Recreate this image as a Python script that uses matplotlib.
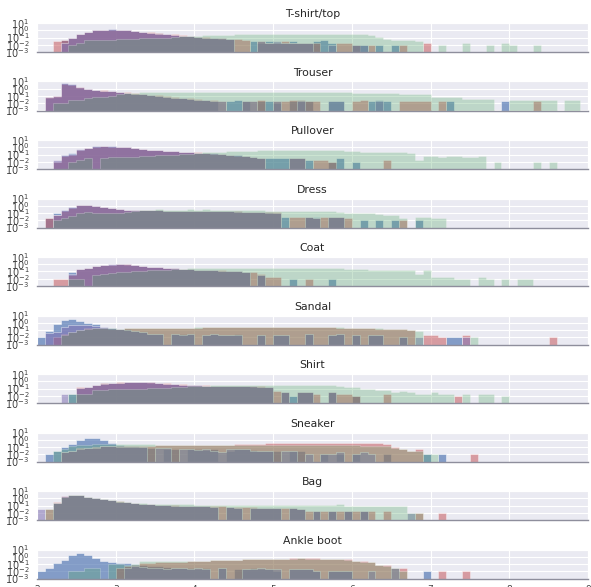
import numpy as np
import matplotlib.pyplot as plt
import seaborn as sns
from matplotlib.ticker import NullLocator

sns.set_style("darkgrid")
plt.rcParams["font.family"] = ["DejaVu Sans"]

# ===== histogram settings =====
N_PER_CLASS = 1000      # test images per class
BIN_WIDTH = 0.1
X_MIN, X_MAX = 2.0, 9.0
N_BINS = int(round((X_MAX - X_MIN) / BIN_WIDTH))

class_names = ["T-shirt/top", "Trouser", "Pullover", "Dress", "Coat",
               "Sandal", "Shirt", "Sneaker", "Bag", "Ankle boot"]

# counts per 0.1-wide bin starting at x=2.0 (trailing empty bins omitted)
tshirt_b = [0, 0, 0, 4, 10, 35, 60, 100, 125, 130, 115, 95, 75, 60, 45, 38, 30, 22, 18, 14, 12, 10, 8, 7, 6, 0, 0, 3, 2, 3,
            2, 2, 3, 2, 2, 3, 4, 2, 0, 0, 1, 1, 0, 1, 0, 1]
tshirt_g = [0, 0, 0, 0, 1, 2, 4, 4, 4, 5, 6, 6, 7, 8, 8, 9, 10, 12, 14, 16, 18, 20, 22, 24, 25, 27, 28, 30, 30, 30,
            32, 32, 35, 35, 35, 35, 35, 35, 35, 35, 28, 26, 25, 12, 7, 5, 5, 4, 3, 0, 0, 1, 0, 0, 2, 0, 0, 1, 0, 2,
            1, 0, 0, 1]
tshirt_r = [0, 0, 3, 4, 9, 30, 55, 95, 115, 125, 120, 100, 80, 65, 50, 40, 32, 26, 20, 16, 13, 11, 9, 8, 7, 6, 5, 0, 3, 2,
            2, 3, 2, 2, 2, 2, 0, 0, 2, 2, 1, 0, 1, 0, 0, 0, 1, 0, 0, 2]
tshirt_p = [0, 0, 0, 2, 10, 35, 60, 100, 120, 130, 120, 100, 75, 60, 48, 35, 30, 22, 18, 15, 12, 10, 9, 8, 7, 0, 0, 0, 3, 2,
            3, 2, 2, 2, 2, 0, 0, 1, 0, 0, 1, 1]

trouser_b = [0, 5, 8, 650, 400, 140, 80, 65, 55, 45, 35, 28, 22, 18, 14, 10, 8, 6, 5, 4, 3, 3, 2, 0, 2, 3, 2, 0, 2, 2,
             1, 0, 2, 3, 2, 0, 0, 2, 2, 0, 0, 0, 2, 3, 2, 0, 0, 0, 0, 0, 0, 0, 2, 0, 0, 0, 0, 0, 0, 2]
trouser_g = [0, 0, 1, 1, 3, 3, 6, 8, 8, 10, 20, 28, 30, 32, 35, 35, 36, 36, 38, 38, 38, 38, 38, 38, 38, 36, 36, 36, 35, 35,
             35, 35, 35, 35, 34, 34, 34, 33, 33, 33, 25, 25, 25, 25, 25, 25, 20, 20, 20, 20, 8, 8, 8, 8, 4, 4, 4, 4, 0, 0,
             3, 3, 3, 3, 3, 3, 0, 3, 3]
trouser_r = [0, 8, 10, 400, 350, 180, 90, 70, 60, 50, 40, 32, 25, 20, 16, 12, 10, 8, 6, 5, 4, 3, 3, 2, 0, 0, 2, 2, 3, 0,
             2, 2, 3, 3, 2, 2, 0, 0, 0, 0, 2, 3, 0, 0, 0, 0, 2, 2, 2, 2, 0, 2, 0, 0, 0, 0, 0, 0, 0, 0, 0, 0, 0, 2]
trouser_p = [0, 8, 10, 550, 420, 150, 80, 65, 55, 45, 35, 28, 22, 18, 14, 10, 8, 6, 5, 4, 3, 3, 2, 2, 0, 0, 2, 2, 0, 0,
             2, 0, 0, 2, 0, 0, 0, 2, 2, 0, 0, 0, 0, 2]

pullover_b = [0, 0, 1, 10, 14, 48, 88, 128, 135, 128, 118, 105, 78, 55, 46, 40, 34, 30, 24, 20, 17, 15, 13, 12, 9, 8, 6, 5, 3, 3,
              3, 3, 3, 3, 2, 0, 0, 1, 3, 0, 1]
pullover_g = [0, 0, 0, 0, 1, 2, 3, 0, 3, 4, 4, 5, 5, 6, 7, 8, 9, 10, 11, 12, 18, 20, 22, 25, 28, 30, 32, 35, 40, 42,
              45, 45, 48, 45, 45, 42, 40, 40, 38, 35, 28, 25, 25, 24, 22, 22, 20, 18, 2, 6, 6, 5, 6, 6, 5, 5, 6, 0, 1, 0,
              0, 0, 0, 1, 0, 1]
pullover_r = [0, 0, 1, 6, 10, 45, 85, 125, 130, 125, 115, 105, 82, 58, 46, 38, 33, 28, 24, 21, 19, 15, 13, 11, 8, 7, 6, 4, 3, 0,
              0, 0, 3, 3, 0, 2, 2, 1, 0, 0, 0, 0, 0, 0, 2]
pullover_p = [0, 0, 2, 8, 12, 50, 90, 130, 135, 130, 120, 110, 80, 55, 48, 40, 35, 30, 25, 20, 18, 15, 14, 12, 9, 8, 7, 5, 3, 0,
              0, 0, 3, 3]

dress_b = [0, 2, 10, 30, 60, 120, 130, 90, 60, 45, 35, 30, 25, 25, 24, 24, 22, 20, 20, 19, 22, 21, 20, 19, 18, 18, 14, 14, 13, 12,
           11, 3, 0, 0, 3, 3, 0, 3, 3, 0, 0, 1, 0, 1, 0, 1, 0, 0, 1]
dress_g = [0, 0, 1, 2, 4, 10, 12, 11, 10, 10, 11, 12, 22, 30, 30, 32, 30, 28, 30, 32, 30, 32, 30, 30, 30, 28, 30, 30, 28, 22,
           20, 20, 20, 20, 18, 20, 20, 18, 12, 10, 10, 10, 9, 8, 5, 5, 2, 0, 3, 3, 2, 2]
dress_r = [0, 2, 6, 20, 55, 110, 125, 95, 62, 46, 36, 30, 25, 24, 24, 23, 22, 20, 19, 19, 21, 20, 19, 18, 18, 17, 15, 14, 13, 14,
           12, 0, 3, 3, 3, 2, 3, 3, 3, 2, 0, 0, 0, 0, 0, 0, 1]
dress_p = [0, 0, 5, 25, 60, 125, 135, 100, 65, 48, 36, 30, 25, 24, 23, 23, 22, 20, 19, 18, 20, 20, 18, 18, 17, 16, 14, 13, 12, 11,
           10, 0, 0, 0, 3, 2, 0, 3, 3]

coat_b = [0, 0, 0, 0, 8, 22, 32, 50, 72, 92, 100, 92, 80, 62, 45, 36, 30, 26, 22, 20, 17, 15, 14, 13, 11, 10, 8, 0, 3, 0,
          0, 0, 1, 0, 0, 0, 0, 1]
coat_g = [0, 0, 0, 0, 1, 1, 0, 3, 4, 7, 8, 9, 10, 12, 14, 16, 18, 20, 24, 26, 28, 30, 30, 32, 32, 34, 34, 35, 35, 35,
          34, 34, 33, 33, 32, 32, 33, 32, 30, 22, 20, 20, 18, 15, 15, 14, 14, 15, 5, 15, 2, 2, 2, 1, 1, 0, 2, 1, 0, 1,
          0, 1, 1]
coat_r = [0, 0, 1, 1, 3, 20, 32, 50, 70, 90, 100, 95, 85, 65, 45, 38, 32, 28, 24, 22, 18, 16, 18, 14, 12, 10, 9, 8, 4, 2,
          2, 0, 0, 0, 1]
coat_p = [0, 0, 0, 0, 4, 24, 34, 52, 72, 95, 100, 95, 82, 62, 44, 36, 30, 26, 22, 20, 17, 15, 14, 12, 11, 10, 8, 0, 3]

sandal_b = [1, 8, 60, 250, 300, 180, 100, 60, 30, 20, 15, 12, 8, 5, 3, 3, 0, 3, 3, 3, 0, 2, 3, 2, 2, 3, 0, 0, 2, 0,
            2, 2, 0, 0, 3, 0, 0, 2, 3, 0, 2, 0, 2, 2, 0, 0, 1, 0, 0, 0, 0, 0, 1, 1]
sandal_g = [0, 0, 0, 2, 5, 10, 15, 18, 17, 17, 16, 18, 18, 17, 19, 18, 18, 20, 20, 22, 23, 24, 24, 25, 25, 26, 27, 26, 27, 28,
            28, 28, 29, 28, 28, 27, 26, 26, 23, 21, 20, 20, 19, 17, 16, 14, 14, 10, 8, 0, 0, 0, 0, 0, 0, 1]
sandal_r = [0, 0, 1, 3, 6, 10, 18, 22, 17, 16, 16, 17, 17, 17, 18, 18, 18, 19, 19, 22, 22, 23, 24, 24, 25, 25, 26, 26, 27, 27,
            27, 28, 28, 28, 27, 27, 26, 26, 22, 21, 20, 20, 19, 16, 15, 14, 14, 10, 0, 2, 2, 1, 0, 0, 2, 0, 0, 0, 0, 0,
            0, 0, 0, 0, 0, 1]
sandal_p = [0, 4, 5, 25, 45, 50, 45, 35, 28, 22, 15, 10, 8, 5, 3, 3, 0, 3, 2, 3, 0, 2, 3, 2, 2, 2, 0, 0, 2, 0,
            2, 2, 0, 0, 3, 0, 0, 2, 3, 0, 2, 0, 2, 2, 0, 0, 1, 0, 1, 0, 0, 0, 0, 0, 1]

shirt_b = [0, 0, 0, 0, 2, 13, 15, 32, 50, 55, 66, 72, 70, 68, 66, 52, 46, 36, 34, 30, 26, 24, 24, 22, 20, 19, 19, 18, 17, 14,
           0, 3, 1, 3, 3, 0, 0, 3, 0, 0, 1]
shirt_g = [0, 0, 0, 0, 2, 2, 2, 6, 7, 8, 9, 10, 10, 10, 11, 12, 13, 15, 17, 20, 24, 25, 26, 27, 28, 28, 28, 30, 30, 30,
           30, 28, 28, 28, 28, 28, 27, 26, 25, 15, 15, 10, 10, 7, 7, 3, 5, 3, 2, 2, 3, 2, 2, 0, 2, 0, 2, 2, 0, 1]
shirt_r = [0, 0, 0, 0, 0, 14, 16, 34, 52, 58, 68, 74, 72, 72, 68, 56, 50, 40, 36, 33, 28, 26, 25, 24, 22, 21, 20, 20, 19, 16,
           5, 3, 0, 3, 3, 2, 0, 3, 2, 2, 1, 0, 0, 0, 2, 0, 0, 0, 0, 0, 0, 0, 0, 1]
shirt_p = [0, 0, 0, 2, 0, 12, 14, 30, 48, 55, 65, 70, 72, 70, 68, 55, 48, 38, 35, 32, 27, 25, 25, 23, 21, 20, 19, 19, 18, 15,
           0, 3, 0, 3, 3, 0, 0, 3]

sneaker_b = [0, 1, 3, 10, 30, 100, 180, 180, 100, 40, 20, 15, 12, 10, 8, 0, 6, 6, 0, 5, 5, 4, 6, 0, 3, 5, 5, 4, 3, 3,
             3, 0, 3, 3, 0, 0, 1, 0, 1, 0, 1, 0, 0, 0, 1, 0, 0, 0, 0, 1, 0, 1]
sneaker_g = [0, 0, 3, 5, 12, 18, 22, 25, 28, 30, 28, 25, 25, 24, 24, 22, 22, 22, 22, 20, 20, 20, 20, 22, 20, 20, 20, 20, 20, 20,
             20, 20, 20, 20, 20, 18, 18, 18, 18, 18, 18, 16, 16, 15, 14, 8, 5, 3, 3, 1, 1]
sneaker_r = [0, 0, 0, 2, 3, 7, 8, 9, 14, 14, 12, 15, 15, 16, 16, 17, 18, 18, 17, 18, 18, 20, 22, 22, 22, 24, 25, 25, 28, 35,
             35, 36, 38, 38, 40, 40, 40, 38, 38, 38, 36, 35, 35, 33, 30, 10, 5, 3, 5, 0, 0, 0, 0, 0, 0, 1]
sneaker_p = [0, 0, 0, 2, 3, 6, 7, 8, 13, 13, 10, 9, 9, 9, 0, 7, 7, 0, 5, 5, 4, 6, 3, 2, 6, 6, 5, 3, 3, 3,
             0, 3, 3, 0, 1, 0, 1, 1, 2, 0, 1, 2, 1]

bag_b = [0, 0, 20, 170, 290, 250, 165, 105, 72, 50, 35, 28, 22, 18, 15, 12, 11, 10, 9, 9, 8, 8, 7, 0, 6, 5, 0, 5, 5, 4,
         4, 0, 4, 3, 0, 2, 0, 2, 0, 2, 0, 2]
bag_g = [0, 3, 22, 160, 280, 240, 160, 100, 70, 50, 38, 30, 25, 20, 17, 15, 15, 14, 14, 14, 13, 13, 13, 12, 12, 12, 12, 12, 12, 12,
         12, 12, 12, 13, 11, 11, 11, 11, 17, 9, 8, 8, 8, 8, 8, 8, 8, 1, 1]
bag_r = [0, 3, 28, 180, 300, 260, 170, 110, 75, 52, 36, 28, 22, 18, 15, 13, 12, 11, 10, 10, 9, 9, 8, 8, 7, 6, 6, 6, 5, 5,
         5, 5, 4, 3, 2, 2, 2, 2, 2, 2, 2, 2, 2, 0, 2, 0, 0, 0, 1, 0, 0, 1]
bag_p = [3, 0, 25, 175, 300, 255, 168, 108, 74, 50, 35, 28, 22, 18, 15, 12, 11, 10, 9, 9, 8, 8, 7, 0, 6, 5, 0, 5, 5, 4,
         4, 0, 4, 3, 0, 2, 0, 2, 0, 2, 0, 2, 0, 0, 0, 0, 0, 1]

ankle_b = [1, 3, 12, 40, 200, 300, 180, 70, 30, 20, 15, 12, 10, 8, 6, 5, 4, 3, 3, 3, 2, 3, 0, 3, 0, 2, 2, 3, 2, 2,
           1, 0, 2, 2, 2, 1, 0, 1, 1, 1, 0, 0, 0, 0, 0, 0, 0, 0, 0, 1]
ankle_g = [0, 0, 0, 0, 1, 1, 3, 3, 0, 10, 10, 8, 10, 25, 25, 28, 28, 30, 30, 30, 30, 30, 32, 35, 38, 40, 42, 45, 48, 50,
           52, 55, 55, 58, 55, 55, 45, 45, 42, 40, 25, 22, 20, 8, 6, 3, 1]
ankle_r = [0, 0, 0, 0, 0, 0, 0, 0, 0, 0, 3, 5, 8, 12, 15, 17, 18, 20, 22, 25, 28, 30, 32, 35, 38, 40, 42, 45, 48, 50,
           52, 55, 62, 65, 62, 60, 50, 48, 45, 45, 28, 25, 22, 8, 8, 3, 3, 0, 0, 0, 0, 1, 0, 0, 1]
ankle_p = [0, 0, 0, 0, 0, 0, 0, 0, 0, 0, 0, 3, 5, 4, 3, 3, 2, 3, 3, 2, 3, 2, 0, 3, 0, 0, 2, 2, 3, 2,
           2, 0, 2, 2, 2, 1, 0, 1, 1, 1, 0, 0, 1, 0, 0, 3]

# drawing order (back to front) with the fill opacity of each series
series_colors = ["#4C72B0", "#C44E52", "#8172B2", "#55A868"]
series_alpha = [0.65, 0.5, 0.55, 0.3]

counts = {
    "T-shirt/top": (tshirt_b, tshirt_r, tshirt_p, tshirt_g),
    "Trouser": (trouser_b, trouser_r, trouser_p, trouser_g),
    "Pullover": (pullover_b, pullover_r, pullover_p, pullover_g),
    "Dress": (dress_b, dress_r, dress_p, dress_g),
    "Coat": (coat_b, coat_r, coat_p, coat_g),
    "Sandal": (sandal_b, sandal_r, sandal_p, sandal_g),
    "Shirt": (shirt_b, shirt_r, shirt_p, shirt_g),
    "Sneaker": (sneaker_b, sneaker_r, sneaker_p, sneaker_g),
    "Bag": (bag_b, bag_r, bag_p, bag_g),
    "Ankle boot": (ankle_b, ankle_r, ankle_p, ankle_g),
}

edges = X_MIN + BIN_WIDTH * np.arange(N_BINS + 1)
centers = edges[:-1] + BIN_WIDTH / 2


def to_density(c):
    """pad a count list to the full bin range and normalise to a density"""
    c = np.array(list(c) + [0] * (N_BINS - len(c)), dtype=float)
    return c / (N_PER_CLASS * BIN_WIDTH)


# ===== figure =====
W, H = 591, 587
fig = plt.figure(figsize=(W / 100, H / 100), dpi=100)

for i, name in enumerate(class_names):
    top = 23 + 58.5 * i
    ax = fig.add_axes([37 / W, 1 - (top + 29) / H, 551 / W, 29 / H])
    for c, col, a in zip(counts[name], series_colors, series_alpha):
        ax.hist(centers, bins=edges, weights=to_density(c), histtype="stepfilled",
                log=True, color=col, alpha=a, linewidth=0.5)
    ax.set_xlim(X_MIN, X_MAX)
    ax.set_ylim(1e-3, 1e1)
    ax.set_yticks([1e-3, 1e-2, 1e-1, 1e0, 1e1])
    ax.yaxis.set_minor_locator(NullLocator())
    ax.tick_params(axis="y", labelsize=7, pad=2, colors=".25")
    ax.tick_params(axis="x", labelsize=6.5, pad=1.5, colors=".25")
    if i < len(class_names) - 1:
        ax.tick_params(labelbottom=False)
    ax.spines["bottom"].set_visible(True)
    ax.spines["bottom"].set_color("#8e8e9c")
    ax.spines["bottom"].set_linewidth(1.0)
    ax.set_title(name, fontsize=7.8, pad=4, color=".15")

fig.savefig("out.png", dpi=100)
